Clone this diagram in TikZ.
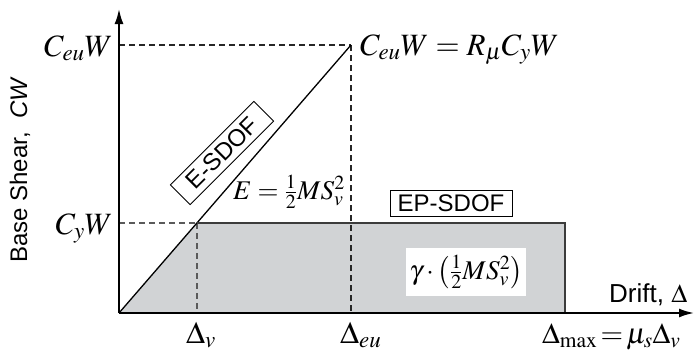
\documentclass[tikz,border=0pt]{standalone}
\usepackage{mathptmx}
\usepackage[no-math]{fontspec}
\setsansfont{Liberation Sans}
\usetikzlibrary{arrows.meta}
\definecolor{fillgray}{RGB}{209,211,213}
\definecolor{rectgray}{RGB}{60,60,60}
\definecolor{dashgray}{RGB}{90,90,90}
\tikzset{
  axisline/.style={line width=2pt, -{Latex[length=15pt,width=9pt]}},
  elastic/.style={line width=1.3pt},
  epline/.style={line width=2pt, draw=rectgray},
  guide/.style={line width=1.2pt, draw=dashgray, dash pattern=on 6pt off 4pt},
  biglab/.style={inner sep=0pt, font=\fontsize{31}{35}\selectfont},
  medlab/.style={inner sep=0pt, font=\fontsize{27}{31}\selectfont},
  sanslab/.style={inner sep=0pt, font=\sffamily\fontsize{24}{28}\selectfont},
  tagbox/.style={draw, line width=0.8pt, fill=white, inner sep=0pt, font=\sffamily\fontsize{24}{28}\selectfont}
}
\begin{document}
\begin{tikzpicture}[x=1pt,y=-1pt]
\useasboundingbox (0,0) rectangle (694,351);
\coordinate (O) at (119,313);
\coordinate (ytop) at (119,9);
\coordinate (xend) at (694,313);
\coordinate (Y) at (197,223);
\coordinate (P) at (351,45);
\coordinate (M) at (565,223);
\coordinate (Mb) at (565,313);
\coordinate (Ya) at (119,223);
\coordinate (Yb) at (197,313);
\coordinate (Pa) at (119,45);
\coordinate (Pb) at (351,313);
% shaded area
\fill[fillgray] (O) -- (Y) -- (M) -- (Mb) -- cycle;
% guides
\draw[guide] (Ya) -- (Y);
\draw[guide] (Y) -- (Yb);
\draw[guide, draw=black!85] (Pa) -- (P);
\draw[guide, draw=black!85] (P) -- (Pb);
% curves
\draw[elastic] (O) -- (P);
\draw[epline] (Y) -- (M) -- (Mb);
% axes
\draw[axisline] (O) -- (ytop);
\draw[axisline] (O) -- (xend);
% labels
\node[biglab, anchor=base east] (ceu) at (113,56) {$C_{eu}W$};
\node[biglab, anchor=base east] (cy) at (113,234) {$C_{y}W$};
\node[biglab, anchor=base west] (dv) at (186,343) {$\Delta_{v}$};
\node[biglab, anchor=base west] (deu) at (340,343) {$\Delta_{eu}$};
\node[biglab, font=\fontsize{29}{33}\selectfont, anchor=base west] (dmax) at (542,343) {$\Delta_{\max}\!=\!\mu_s\Delta_v$};
\node[biglab, anchor=base west] (peak) at (360,55) {$C_{eu}W=R_\mu C_y W$};
\node[medlab, anchor=base west] (E) at (233,199) {$E=\frac{1}{2}MS_v^2$};
\node[sanslab, font=\sffamily\fontsize{26}{30}\selectfont, anchor=base west] (drift) at (609,302) {Drift, $\Delta$};
\node[sanslab, rotate=90] (shear) at (20,170) {Base Shear,\ \ \textit{CW}};
\node[tagbox, rotate=45, minimum width=118pt, minimum height=28pt] (esdof) at (222,153) {E-SDOF};
\node[tagbox, minimum width=122pt, minimum height=26pt] (epsdof) at (451,203) {EP-SDOF};
\node[medlab, fill=white, minimum width=120pt, minimum height=48pt] (gam) at (466,272) {$\gamma\cdot\left(\frac{1}{2}MS_v^2\right)$};
\end{tikzpicture}
\end{document}
